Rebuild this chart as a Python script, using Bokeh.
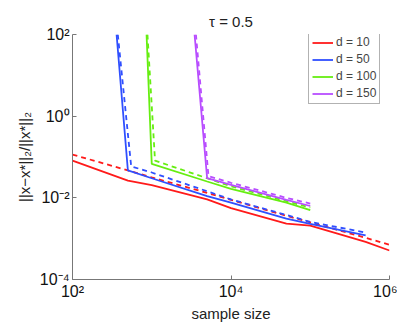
from bokeh.plotting import figure
from bokeh.models import FixedTicker, Legend, LegendItem
from bokeh.embed import file_html
from bokeh.resources import INLINE

# ---- data ----
n_all = [100, 500, 1000, 5000, 10000, 50000, 100000, 500000, 1000000]

d10_solid = [0.0813, 0.0263, 0.0204, 0.00912, 0.00562, 0.00234, 0.00209, 0.000832, 0.000513]
d10_dash = [0.115, 0.0468, 0.0316, 0.0132, 0.00891, 0.00363, 0.00251, 0.00105, 0.000708]

n50_solid = [360, 500, 1000, 5000, 10000, 50000, 100000, 500000]
d50_solid = [100, 0.0468, 0.0302, 0.0110, 0.00759, 0.00309, 0.00229, 0.00120]
n50_dash = [373, 550, 1000, 5000, 10000, 50000, 100000, 500000]
d50_dash = [100, 0.0589, 0.0417, 0.0145, 0.00912, 0.00380, 0.00257, 0.00141]

n100_solid = [860, 1000, 5000, 10000, 50000, 100000]
d100_solid = [100, 0.0676, 0.0251, 0.0166, 0.00759, 0.00501]
n100_dash = [883, 1100, 5000, 10000, 50000, 100000]
d100_dash = [100, 0.0813, 0.0302, 0.0191, 0.00832, 0.00575]

n150_solid = [3470, 5000, 10000, 50000, 100000]
d150_solid = [100, 0.0302, 0.0209, 0.00891, 0.00631]
n150_dash = [3610, 5200, 10000, 50000, 100000]
d150_dash = [100, 0.0339, 0.0234, 0.0100, 0.00724]

labels = ["d = 10", "d = 50", "d = 100", "d = 150"]
colors = ["#ff1a1a", "#2f4fff", "#66ee11", "#b84dff"]

x_ticks = [1e2, 1e4, 1e6]
x_tick_labels = ["10\u00b2", "10\u2074", "10\u2076"]
y_ticks = [1e-4, 1e-2, 1e0, 1e2]
y_tick_labels = ["10\u207b\u2074", "10\u207b\u00b2", "10\u2070", "10\u00b2"]

FONT = "Liberation Sans"

p = figure(width=397, height=324, x_axis_type="log", y_axis_type="log",
           x_range=(1e2, 1e6), y_range=(1e-4, 1e2),
           output_backend="svg", toolbar_location=None,
           min_border_left=72, min_border_right=8,
           min_border_top=34, min_border_bottom=44,
           title="\u03c4 = 0.5")
p.title.align = "center"
p.title.text_font = FONT
p.title.text_font_size = "15px"
p.title.text_font_style = "normal"
p.title.text_color = "#222222"
p.title.standoff = 9

p.grid.visible = False
p.outline_line_color = None
p.background_fill_color = "white"
p.border_fill_color = "white"

for ax, ticks, labs in ((p.xaxis[0], x_ticks, x_tick_labels), (p.yaxis[0], y_ticks, y_tick_labels)):
    ax.ticker = FixedTicker(ticks=ticks, minor_ticks=[])
    ax.major_label_overrides = {t: l for t, l in zip(ticks, labs)}
    ax.major_label_text_font = FONT
    ax.major_label_text_font_size = "16px"
    ax.major_label_text_color = "#111111"
    ax.axis_line_color = "#777777"
    ax.major_tick_line_color = "#777777"
    ax.major_tick_in = 4
    ax.major_tick_out = 0
    ax.minor_tick_line_color = None
    ax.axis_label_text_font = FONT
    ax.axis_label_text_font_style = "normal"
    ax.axis_label_text_font_size = "15px"
    ax.axis_label_text_color = "#222222"

p.xaxis.axis_label = "sample size"
p.xaxis.major_label_standoff = 3
p.xaxis.axis_label_standoff = 2
p.yaxis.axis_label = "||x\u2212x*||\u2082/||x*||\u2082"
p.yaxis.major_label_standoff = 3
p.yaxis.axis_label_standoff = 4

series = [
    (n_all, d10_solid, n_all, d10_dash),
    (n50_solid, d50_solid, n50_dash, d50_dash),
    (n100_solid, d100_solid, n100_dash, d100_dash),
    (n150_solid, d150_solid, n150_dash, d150_dash),
]

items = []
for (xs, ys, xd, yd), lab, col in zip(series, labels, colors):
    r = p.line(xs, ys, line_color=col, line_width=1.8)
    p.line(xd, yd, line_color=col, line_width=1.8, line_dash="5 4")
    items.append(LegendItem(label=lab, renderers=[r]))

legend = Legend(items=items, location=(236, 175))
legend.label_text_font = FONT
legend.label_text_font_size = "12px"
legend.label_height = 13
legend.glyph_height = 13
legend.glyph_width = 21
legend.spacing = 3
legend.padding = 3
legend.margin = 0
legend.label_standoff = 3
legend.border_line_color = "#666666"
legend.border_line_width = 1
legend.background_fill_alpha = 1
p.add_layout(legend)

open("out.html", "w").write(file_html(p, INLINE))
